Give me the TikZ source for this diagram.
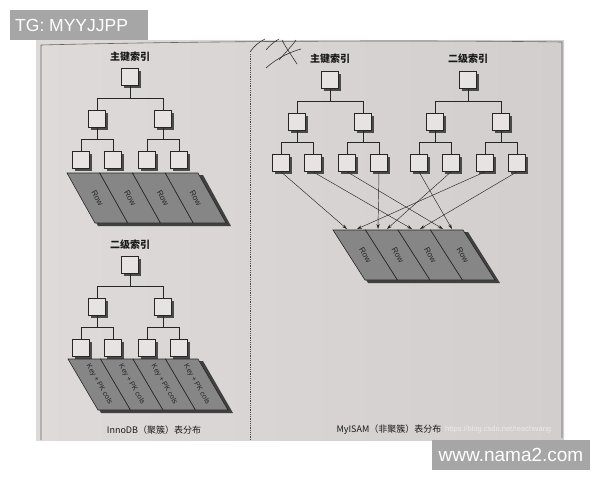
\documentclass[tikz,border=0pt]{standalone}
\usepackage{fontspec}
\setmainfont{Liberation Sans}
\newfontfamily\cjk{Noto Sans CJK SC}
\usetikzlibrary{shadows,arrows.meta}
\definecolor{pagebgL}{HTML}{DEDAD9}
\definecolor{pagebgR}{HTML}{D2CECD}
\definecolor{boxfill}{HTML}{E6E3E2}
\definecolor{bandfill}{HTML}{878686}
\definecolor{wmbox}{HTML}{A6A6A6}
\tikzset{
  ibox/.style={draw=black!85, fill=boxfill, minimum size=17pt, inner sep=0pt, line width=0.6pt,
    drop shadow={shadow xshift=2.5pt, shadow yshift=-2.5pt, fill=black!80, opacity=0.85}},
  tline/.style={line width=0.5pt, draw=black!85},
  arr/.style={line width=0.45pt, draw=black!85, -{Stealth[length=5pt,width=3.2pt]}},
  celltext/.style={font=\fontsize{#1}{#1}\selectfont, text=black!85, inner sep=0pt},
  title/.style={font=\cjk\bfseries\fontsize{10}{10}\selectfont, text=black!90},
  caption/.style={font=\cjk\fontsize{9}{9}\selectfont, text=black!90},
  wmtext/.style={text=white, inner sep=0pt}
}
% tree: prefix, root x, root y
\newcommand\mytree[3]{%
  \node[ibox] (#1r) at (#2,#3) {};
  \node[ibox] (#1a) at (#2-33,#3+42) {};
  \node[ibox] (#1b) at (#2+33,#3+42) {};
  \node[ibox] (#1a1) at (#2-49,#3+83) {};
  \node[ibox] (#1a2) at (#2-17,#3+83) {};
  \node[ibox] (#1b1) at (#2+17,#3+83) {};
  \node[ibox] (#1b2) at (#2+49,#3+83) {};
  \draw[tline] (#1r.south) -- ++(0,12.5) -| (#1a.north);
  \draw[tline] (#1r.south) -- ++(0,12.5) -| (#1b.north);
  \draw[tline] (#1a.south) -- ++(0,11.5) -| (#1a1.north);
  \draw[tline] (#1a.south) -- ++(0,11.5) -| (#1a2.north);
  \draw[tline] (#1b.south) -- ++(0,11.5) -| (#1b1.north);
  \draw[tline] (#1b.south) -- ++(0,11.5) -| (#1b2.north);
}
% band: prefix, x0, y0, cell width, slant, height, text, font size
\newcommand\myband[8]{%
  \fill[black!75] (#2+5,#3+2) -- (#2+4*#4+5,#3+2) -- (#2+4*#4+#5+5,#3+#6+3) -- (#2+#5+3,#3+#6+3) -- cycle;
  \foreach \i in {0,1,2,3}{
    \draw[fill=bandfill, draw=black!85, line width=0.6pt]
      (#2+\i*#4,#3) -- (#2+\i*#4+#4,#3) -- (#2+\i*#4+#4+#5,#3+#6) -- (#2+\i*#4+#5,#3+#6) -- cycle;
    \node[celltext=#8, rotate=-60] (#1c\i) at (#2+\i*#4+0.5*#4+0.5*#5,#3+0.5*#6) {#7};
  }
}
\begin{document}
\begin{tikzpicture}[x=1pt,y=-1pt]
\useasboundingbox (0,0) rectangle (600,480);
\fill[white] (0,0) rectangle (600,480);
% page
\shade[left color=pagebgL, right color=pagebgR] (36,40) rectangle (564,440);
\draw[black!60, line width=0.6pt] (41,440) -- (41,45) .. controls (200,41) and (420,40) .. (562,42) -- (562,438);
\draw[black!70, line width=0.8pt, densely dotted] (250,54) -- (250,440);
% scribble
\draw[black!80, line width=0.6pt, line cap=round]
  (250,52) .. controls (254,46) and (259,42) .. (265,39);
\draw[black!80, line width=0.6pt, line cap=round]
  (266,50) .. controls (270,45) and (274,42) .. (279,39);
\draw[black!80, line width=0.6pt, line cap=round]
  (282,40) .. controls (286,48) and (292,56) .. (297,64);
\draw[black!80, line width=0.6pt, line cap=round]
  (296,40) .. controls (291,47) and (285,53) .. (279,60);
\draw[black!80, line width=0.6pt, line cap=round]
  (266,68) .. controls (277,58) and (290,52) .. (301,49);

% ===== InnoDB =====
\node[title] (t1) at (130,57) {主键索引};
\mytree{A}{130}{77}
\myband{A}{67}{173}{32.75}{28}{50}{Row}{8}
\node[title] (t2) at (130,245) {二级索引};
\mytree{B}{130}{265}
\myband{B}{68}{359}{32.5}{30}{51}{Key + PK cols}{7.2}
\node[caption] (cap1) at (154,430) {InnoDB（聚簇）表分布};

% ===== MyISAM =====
\node[title] (t3) at (330,59) {主键索引};
\mytree{P}{330}{80}
\node[title] (t4) at (468,59) {二级索引};
\mytree{S}{468}{80}
\myband{M}{333}{230}{32.5}{32}{50}{Row}{8}
\coordinate (m1) at (347,229);
\coordinate (m2) at (357,229);
\coordinate (m3) at (378,229);
\coordinate (m4) at (387,229);
\coordinate (m5) at (412,229);
\coordinate (m6) at (420,229);
\coordinate (m7) at (443,229);
\coordinate (m8) at (452,229);
\draw[arr] (Pa1.south) -- (m1);
\draw[arr] (Pa2.south) -- (m5);
\draw[arr] (Pb1.south) -- (m7);
\draw[arr] (Pb2.south) -- (m3);
\draw[arr] (Sa1.south) -- (m8);
\draw[arr] (Sa2.south) -- (m4);
\draw[arr] (Sb1.south) -- (m2);
\draw[arr] (Sb2.south) -- (m6);
\node[caption, anchor=west] (cap2) at (333,430) {MyISAM（非聚簇）表分布};
\node[anchor=west, text=white!92!black, font=\fontsize{7.5}{8}\selectfont, inner sep=0pt] (wm3) at (445,430) {https://blog.csdn.net/reachwang};

% watermarks
\node[fill=wmbox, minimum width=138pt, minimum height=30pt, inner sep=0pt] (wm1) at (79,25) {};
\node[wmtext, anchor=west, font=\fontsize{17.5}{18}\selectfont] at (15,25) {TG: MYYJJPP};
\node[fill=wmbox, minimum width=158pt, minimum height=30pt, inner sep=0pt] (wm2) at (511,455) {};
\node[wmtext, font=\fontsize{19}{20}\selectfont] at (wm2) {www.nama2.com};
\end{tikzpicture}
\end{document}
